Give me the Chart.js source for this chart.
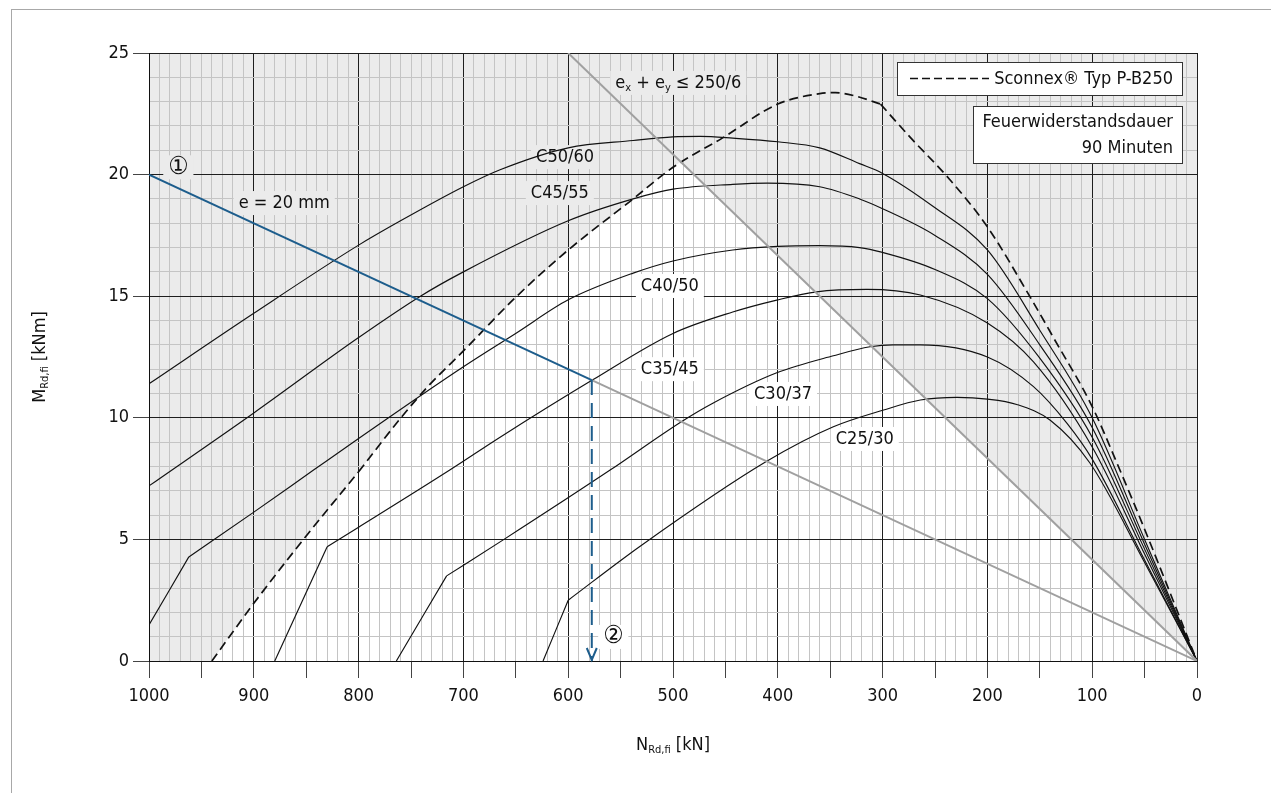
<!DOCTYPE html>
<html>
<head>
<meta charset="utf-8">
<script src="https://cdn.jsdelivr.net/npm/chart.js@4.4.1/dist/chart.umd.min.js"></script>
<style>
  html, body { margin: 0; padding: 0; background: #fff; }
  #frame { position: absolute; left: 11px; top: 9px; right: 0; bottom: 0; border-left: 1px solid #a8a8a8; border-top: 1px solid #a8a8a8; }
  #wrap { position: absolute; left: 0; top: 0; width: 1271px; height: 793px; }
</style>
</head>
<body>
<div id="frame"></div>
<div id="wrap"><canvas id="grafico" width="1271" height="793"></canvas></div>
<script>
// values (N in kN, M in kNm)
const sconnexLabel = 'Sconnex® Typ P-B250';
const sconnexN = [940, 900, 853, 800, 760, 734, 700, 649, 600, 538, 500, 453, 400, 360, 345, 325, 302, 274, 236, 200, 159, 137, 100, 76, 47, 0];
const sconnexM = [0, 2.37, 4.98, 7.78, 9.98, 11.28, 12.75, 15.0, 16.9, 19.0, 20.3, 21.5, 22.9, 23.33, 23.37, 23.22, 22.9, 21.55, 19.8, 17.85, 14.95, 13.3, 10.46, 8.1, 5.1, 0];
const sconnexCorners = [3, 16];

const c5060N = [1000, 900, 800, 760, 700, 665, 600, 538, 500, 474, 443, 400, 360, 322, 300, 252, 200, 150, 100, 50, 0];
const c5060M = [11.4, 14.3, 17.1, 18.1, 19.5, 20.2, 21.1, 21.4, 21.55, 21.57, 21.5, 21.35, 21.1, 20.45, 20.05, 18.7, 16.9, 13.6, 10.0, 5.0, 0];

const c4555N = [1000, 900, 800, 741, 700, 600, 538, 500, 443, 410, 360, 322, 300, 250, 200, 150, 100, 50, 0];
const c4555M = [7.2, 10.2, 13.3, 15.0, 16.0, 18.1, 19.0, 19.4, 19.6, 19.65, 19.5, 19.0, 18.6, 17.5, 15.9, 13.0, 9.6, 4.8, 0];

const c4050N = [1000, 962, 901, 843, 800, 700, 649, 600, 538, 500, 443, 400, 360, 322, 300, 250, 200, 150, 100, 50, 0];
const c4050M = [1.48, 4.28, 6.09, 7.85, 9.15, 12.1, 13.5, 14.85, 15.95, 16.45, 16.9, 17.05, 17.08, 17.0, 16.8, 16.1, 14.9, 12.45, 9.2, 4.6, 0];
const c4050Corners = [1];

const c3545N = [880, 830, 800, 713, 665, 577, 500, 443, 401, 363, 315, 264, 200, 156, 100, 50, 0];
const c3545M = [0, 4.7, 5.5, 7.85, 9.2, 11.55, 13.47, 14.35, 14.84, 15.18, 15.28, 15.05, 13.9, 12.3, 8.8, 4.4, 0];
const c3545Corners = [1];

const c3037N = [764, 716, 662, 560, 492, 462, 401, 347, 312, 290, 264, 200, 156, 124, 100, 50, 0];
const c3037M = [0, 3.5, 4.98, 7.85, 9.84, 10.6, 11.85, 12.55, 12.92, 13.0, 13.0, 12.5, 11.28, 9.77, 8.3, 4.15, 0];
const c3037Corners = [1];

const c2530N = [624, 600, 531, 411, 347, 299, 264, 229, 200, 172, 140, 102, 50, 0];
const c2530M = [0, 2.5, 4.73, 8.2, 9.63, 10.32, 10.73, 10.84, 10.77, 10.55, 9.9, 8.13, 4.05, 0];
const c2530Corners = [1];

// e_x + e_y <= 250/6 limit line and e = 20 mm line
const limitN = [600, 0];
const limitM = [25, 0];
const eBlueN = [1000, 577.5];
const eBlueM = [20, 11.55];
const eGrayN = [577.5, 0];
const eGrayM = [11.55, 0];
const dropN = [577.5, 577.5];
const dropM = [11.55, 0];
const shadeN = [1000, 0];
const shadeM = [25, 25];

const FONT = "'Liberation Sans Narrow', 'DejaVu Sans Condensed', 'Arial Narrow', sans-serif";
const GRAY = '#ebebeb';
const BLUE = '#1d5d8c';
const LINE_GRAY = '#a0a0a0';

const notes = [
  { parts: [['C50/60']], n: 603, m: 20.72, bg: GRAY },
  { parts: [['C45/55']], n: 608, m: 19.24, bg: GRAY },
  { parts: [['C40/50']], n: 503, m: 15.42, bg: '#fff' },
  { parts: [['C35/45']], n: 503, m: 12.0, bg: '#fff' },
  { parts: [['C30/37']], n: 395, m: 10.98, bg: '#fff' },
  { parts: [['C25/30']], n: 317, m: 9.13, bg: '#fff' },
  { parts: [['e = 20 mm']], n: 871, m: 18.83, bg: GRAY },
  { parts: [['e'], ['x', 1], [' + e'], ['y', 1], [' ≤ 250/6']], n: 495, m: 23.77, bg: GRAY },
  { parts: [['①']], n: 972, m: 20.3, bg: GRAY, size: 25 },
  { parts: [['②']], n: 557, m: 0.99, bg: '#fff', size: 25 }
];

function pts(ns, ms) {
  return ns.map((n, i) => ({ x: n, y: ms[i] }));
}

// a curve with sharp corners is split there, each piece drawn smooth
function pieces(label, ns, ms, corners, style) {
  const bounds = [0, ...corners, ns.length - 1];
  const out = [];
  for (let i = 0; i < bounds.length - 1; i++) {
    const a = bounds[i], b = bounds[i + 1];
    out.push(Object.assign({
      label,
      data: pts(ns.slice(a, b + 1), ms.slice(a, b + 1)),
      pointRadius: 0,
      cubicInterpolationMode: 'monotone',
      fill: false
    }, style));
  }
  return out;
}

const solid = { borderColor: '#111', borderWidth: 1.15 };

function richWidth(ctx, parts, size) {
  let w = 0;
  parts.forEach(p => {
    ctx.font = (p[1] ? Math.round(size * 0.62) : size) + 'px ' + FONT;
    w += ctx.measureText(p[0]).width;
  });
  return w;
}

function drawRich(ctx, parts, x, y, size, align) {
  const w = richWidth(ctx, parts, size);
  let cx = align === 'right' ? x - w : align === 'center' ? x - w / 2 : x;
  ctx.textBaseline = 'middle';
  ctx.textAlign = 'left';
  parts.forEach(p => {
    const s = p[1] ? Math.round(size * 0.62) : size;
    ctx.font = s + 'px ' + FONT;
    ctx.fillText(p[0], cx, p[1] ? y + size * 0.28 : y);
    cx += ctx.measureText(p[0]).width;
  });
  return w;
}

const extras = {
  id: 'extras',
  beforeDatasetsDraw(chart) {
    const ctx = chart.ctx;
    const xs = chart.scales.x, ys = chart.scales.y;
    ctx.save();
    notes.forEach(nt => {
      const size = nt.size || 18;
      const px = xs.getPixelForValue(nt.n);
      const py = ys.getPixelForValue(nt.m);
      const w = richWidth(ctx, nt.parts, size);
      ctx.fillStyle = nt.bg;
      ctx.fillRect(px - w / 2 - 5, py - 12, w + 10, 24);
      ctx.fillStyle = '#111';
      drawRich(ctx, nt.parts, px, py, size, 'center');
    });
    ctx.restore();
  },
  afterDraw(chart) {
    const ctx = chart.ctx;
    const ca = chart.chartArea;
    ctx.save();
    // arrow head of the vertical blue drop
    const meta = chart.getDatasetMeta(1);
    const tip = meta.data[meta.data.length - 1];
    ctx.strokeStyle = BLUE;
    ctx.lineWidth = 2;
    ctx.beginPath();
    ctx.moveTo(tip.x - 5, tip.y - 13);
    ctx.lineTo(tip.x, tip.y - 1);
    ctx.lineTo(tip.x + 5, tip.y - 13);
    ctx.stroke();

    // legend boxes
    ctx.fillStyle = '#fff';
    ctx.strokeStyle = '#333';
    ctx.lineWidth = 1;
    ctx.fillRect(ca.right - 300, ca.top + 9, 285, 33);
    ctx.strokeRect(ca.right - 300 + 0.5, ca.top + 9.5, 285, 33);
    ctx.fillRect(ca.right - 224, ca.top + 53, 209, 57);
    ctx.strokeRect(ca.right - 224 + 0.5, ca.top + 53.5, 209, 57);

    ctx.strokeStyle = '#111';
    ctx.lineWidth = 1.6;
    ctx.setLineDash([8, 4]);
    ctx.beginPath();
    ctx.moveTo(ca.right - 287, ca.top + 25.5);
    ctx.lineTo(ca.right - 208, ca.top + 25.5);
    ctx.stroke();
    ctx.setLineDash([]);

    ctx.fillStyle = '#111';
    drawRich(ctx, [[sconnexLabel]], ca.right - 24, ca.top + 26, 18, 'right');
    drawRich(ctx, [['Feuerwiderstandsdauer']], ca.right - 24, ca.top + 69, 18, 'right');
    drawRich(ctx, [['90 Minuten']], ca.right - 24, ca.top + 95, 18, 'right');

    // axis titles
    drawRich(ctx, [['N'], ['Rd,fi', 1], [' [kN]']], (ca.left + ca.right) / 2, 745, 18, 'center');
    ctx.translate(40, (ca.top + ca.bottom) / 2);
    ctx.rotate(-Math.PI / 2);
    drawRich(ctx, [['M'], ['Rd,fi', 1], [' [kNm]']], 0, 0, 18, 'center');
    ctx.restore();
  }
};

const datasets = [
  { label: 'e = 20 mm', data: pts(eBlueN, eBlueM), borderColor: BLUE, borderWidth: 2, pointRadius: 0, tension: 0, fill: false },
  { label: 'drop', data: pts(dropN, dropM), borderColor: BLUE, borderWidth: 2, borderDash: [15, 8], pointRadius: 0, tension: 0, fill: false },
  { label: 'limit', data: pts(limitN, limitM), borderColor: LINE_GRAY, borderWidth: 2, pointRadius: 0, tension: 0, fill: 'end', backgroundColor: GRAY },
  { label: 'e rest', data: pts(eGrayN, eGrayM), borderColor: LINE_GRAY, borderWidth: 2, pointRadius: 0, tension: 0, fill: false },
  ...pieces(sconnexLabel, sconnexN, sconnexM, sconnexCorners,
    { borderColor: '#111', borderWidth: 1.7, borderDash: [9, 5], fill: 'origin', backgroundColor: '#fff' }),
  ...pieces('C50/60', c5060N, c5060M, [], solid),
  ...pieces('C45/55', c4555N, c4555M, [], solid),
  ...pieces('C40/50', c4050N, c4050M, c4050Corners, solid),
  ...pieces('C35/45', c3545N, c3545M, c3545Corners, solid),
  ...pieces('C30/37', c3037N, c3037M, c3037Corners, solid),
  ...pieces('C25/30', c2530N, c2530M, c2530Corners, solid),
  { label: 'shade', data: pts(shadeN, shadeM), borderColor: 'rgba(0,0,0,0)', borderWidth: 0, pointRadius: 0, fill: 'origin', backgroundColor: GRAY }
];

new Chart(document.getElementById('grafico'), {
  type: 'line',
  data: { datasets },
  options: {
    responsive: false,
    animation: false,
    layout: { padding: { left: 0, top: 53, right: 74, bottom: 72 } },
    plugins: {
      legend: { display: false },
      tooltip: { enabled: false },
      filler: { drawTime: 'beforeDraw' }
    },
    scales: {
      x: {
        type: 'linear',
        reverse: true,
        min: 0,
        max: 1000,
        afterFit: s => { s.height = 60; },
        border: { display: true, color: '#111', width: 1 },
        grid: {
          color: c => (c.tick && c.tick.value % 100 === 0) ? '#1e1e1e' : '#c4c4c4',
          lineWidth: 1,
          drawTicks: true,
          tickLength: 17,
          tickWidth: 1,
          tickColor: c => (c.tick && c.tick.value % 50 === 0) ? '#444' : 'rgba(0,0,0,0)'
        },
        ticks: {
          stepSize: 10,
          autoSkip: false,
          maxRotation: 0,
          padding: 8,
          color: '#111',
          font: { size: 18, family: FONT },
          callback: v => v % 100 === 0 ? v : ''
        }
      },
      y: {
        type: 'linear',
        min: 0,
        max: 25,
        afterFit: s => { s.width = 149; },
        border: { display: true, color: '#111', width: 1 },
        grid: {
          color: c => (c.tick && c.tick.value % 5 === 0) ? '#1e1e1e' : '#c4c4c4',
          lineWidth: 1,
          drawTicks: true,
          tickLength: 16,
          tickWidth: 1,
          tickColor: c => (c.tick && c.tick.value % 5 === 0) ? '#444' : 'rgba(0,0,0,0)'
        },
        ticks: {
          stepSize: 1,
          autoSkip: false,
          padding: 4,
          color: '#111',
          font: { size: 18, family: FONT },
          callback: v => v % 5 === 0 ? v : ''
        }
      }
    }
  },
  plugins: [extras]
});
</script>
</body>
</html>
